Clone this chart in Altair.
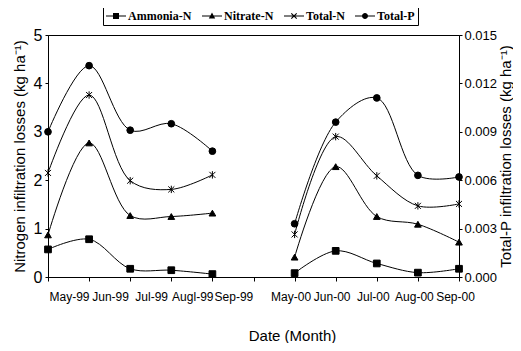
import altair as alt
import pandas as pd

# ---- data ----
month_labels = ["May-99", "Jun-99", "Jul-99", "Augl-99", "Sep-99", "",
                "May-00", "Jun-00", "Jul-00", "Aug-00", "Sep-00"]
month_index = [0, 1, 2, 3, 4, 6, 7, 8, 9, 10]
period = ["1999"] * 5 + ["2000"] * 5

ammonia_n = [0.57, 0.78, 0.17, 0.14, 0.06, 0.08, 0.54, 0.28, 0.09, 0.17]
nitrate_n = [0.87, 2.77, 1.27, 1.25, 1.32, 0.41, 2.28, 1.25, 1.09, 0.72]
total_n = [2.15, 3.76, 1.99, 1.81, 2.11, 0.88, 2.90, 2.09, 1.47, 1.51]
total_p = [0.0090, 0.0131, 0.0091, 0.0095, 0.0078,
           0.0033, 0.0096, 0.0111, 0.0063, 0.0062]

series_names = ["Ammonia-N", "Nitrate-N", "Total-N", "Total-P"]
left_ticks = [0, 1, 2, 3, 4, 5]
right_ticks = [0.0, 0.003, 0.006, 0.009, 0.012, 0.015]

rows = []
for name, vals in zip(series_names, [ammonia_n, nitrate_n, total_n, total_p]):
    for i, v, p in zip(month_index, vals, period):
        rows.append({"idx": i, "value": v, "series": name, "period": p})
df = pd.DataFrame(rows)

# ---- styling ----
narrow = "Liberation Sans Narrow, Arial Narrow, Liberation Sans, sans-serif"
sans = "Liberation Sans, Arial, sans-serif"

asterisk = "M-0.9,-0.9L0.9,0.9M-0.9,0.9L0.9,-0.9M0,-1.1L0,1.1"
point_shapes = ["square", "triangle-up", asterisk, "circle"]
bar = "M-1,-0.045H1V0.045H-1Z"
legend_shapes = [
    bar + "M-0.3,-0.3H0.3V0.3H-0.3Z",
    bar + "M0,-0.36L0.32,0.24H-0.32Z",
    bar + "M-0.31,-0.23L-0.23,-0.31L0.31,0.23L0.23,0.31Z"
          "M-0.31,0.23L0.23,-0.31L0.31,-0.23L-0.23,0.31Z",
    bar + "M0.3,0A0.3,0.3,0,1,1,-0.3,0A0.3,0.3,0,1,1,0.3,0Z",
]

label_expr = "[" + ",".join("'%s'" % s for s in month_labels) + "][datum.value]"

x_enc = alt.X(
    "idx:Q",
    scale=alt.Scale(domain=[0, 10], nice=False, zero=False),
    axis=alt.Axis(
        values=list(range(11)),
        labelExpr=label_expr,
        labelOffset={"condition": {"test": "datum.value < 5", "value": 21}, "value": -4},
        labelFont=narrow, labelFontSize=12, labelColor="black",
        labelPadding=10, tickSize=4, tickColor="black", domainColor="black",
        labelOverlap=False,
        grid=False, title="Date (Month)", titleFont=sans, titleFontSize=15,
        titleFontWeight="normal", titleColor="black",
        titleX=244, titleY=58, titleBaseline="middle", labelFlush=False,
    ),
)

y_left = alt.Y(
    "value:Q",
    scale=alt.Scale(domain=[0, 5], nice=False),
    axis=alt.Axis(
        values=left_ticks, format="d", orient="left",
        labelFont=narrow, labelFontSize=16, labelColor="black", labelPadding=3,
        tickSize=3, tickColor="black", domainColor="black", grid=False,
        title="Nitrogen infiltration losses (kg ha⁻¹)", titleFont=sans,
        titleFontSize=15, titleFontWeight="normal", titleColor="black",
        titlePadding=6,
    ),
)

y_right = alt.Y(
    "value:Q",
    scale=alt.Scale(domain=[0, 0.015], nice=False),
    axis=alt.Axis(
        values=right_ticks, format=".3f", orient="right",
        labelFont=narrow, labelFontSize=13, labelColor="black", labelPadding=2,
        tickSize=3, tickColor="black", domainColor="black", grid=False,
        title="Total-P infiltration losses (kg ha⁻¹)", titleFont=sans,
        titleFontSize=15, titleFontWeight="normal", titleColor="black",
        titleAngle=270, titleBaseline="top", titlePadding=2,
    ),
)

shape_pts = alt.Shape("series:N", scale=alt.Scale(domain=series_names, range=point_shapes),
                      legend=None)

n_data = alt.Chart(df).transform_filter("datum.series != 'Total-P'")
p_data = alt.Chart(df).transform_filter("datum.series == 'Total-P'")

n_lines = n_data.mark_line(interpolate="catmull-rom", color="black", strokeWidth=1).encode(
    x=x_enc, y=y_left, detail=["series:N", "period:N"])
n_pts = n_data.mark_point(filled=True, fill="black", stroke="black", strokeWidth=1,
                          size=45, opacity=1).encode(x=x_enc, y=y_left, shape=shape_pts)
legend_layer = n_data.mark_point(filled=True, fill="black", opacity=0).encode(
    x=x_enc, y=y_left,
    shape=alt.Shape(
        "series:N",
        scale=alt.Scale(domain=series_names, range=legend_shapes),
        legend=alt.Legend(
            title=None, orient="none", direction="horizontal", legendX=55, legendY=-32,
            symbolSize=400, symbolOpacity=1, symbolFillColor="black",
            symbolStrokeWidth=0,
            labelFont="Liberation Serif, Times New Roman, serif", labelFontWeight="bold",
            labelFontSize=12, labelColor="black", labelOffset=2, columnPadding=10,
            strokeColor="black", padding=3, labelLimit=200,
        ),
    ),
)
left = alt.layer(n_lines, n_pts, legend_layer).resolve_scale(shape="independent")

p_lines = p_data.mark_line(interpolate="catmull-rom", color="black", strokeWidth=1).encode(
    x=x_enc, y=y_right, detail="period:N")
p_pts = p_data.mark_point(filled=True, fill="black", stroke="black", strokeWidth=1,
                          size=45, opacity=1).encode(x=x_enc, y=y_right, shape=shape_pts)
right = alt.layer(p_lines, p_pts)

chart = (
    alt.layer(left, right)
    .resolve_scale(y="independent", shape="independent")
    .properties(
        width=411, height=242,
        autosize=alt.AutoSizeParams(type="none"),
        padding={"left": 40, "top": 27, "right": 54, "bottom": 66},
        background="white",
    )
    .configure_view(stroke="black", strokeWidth=1)
)

chart.save("out.html", embed_options={"renderer": "svg", "actions": False})
